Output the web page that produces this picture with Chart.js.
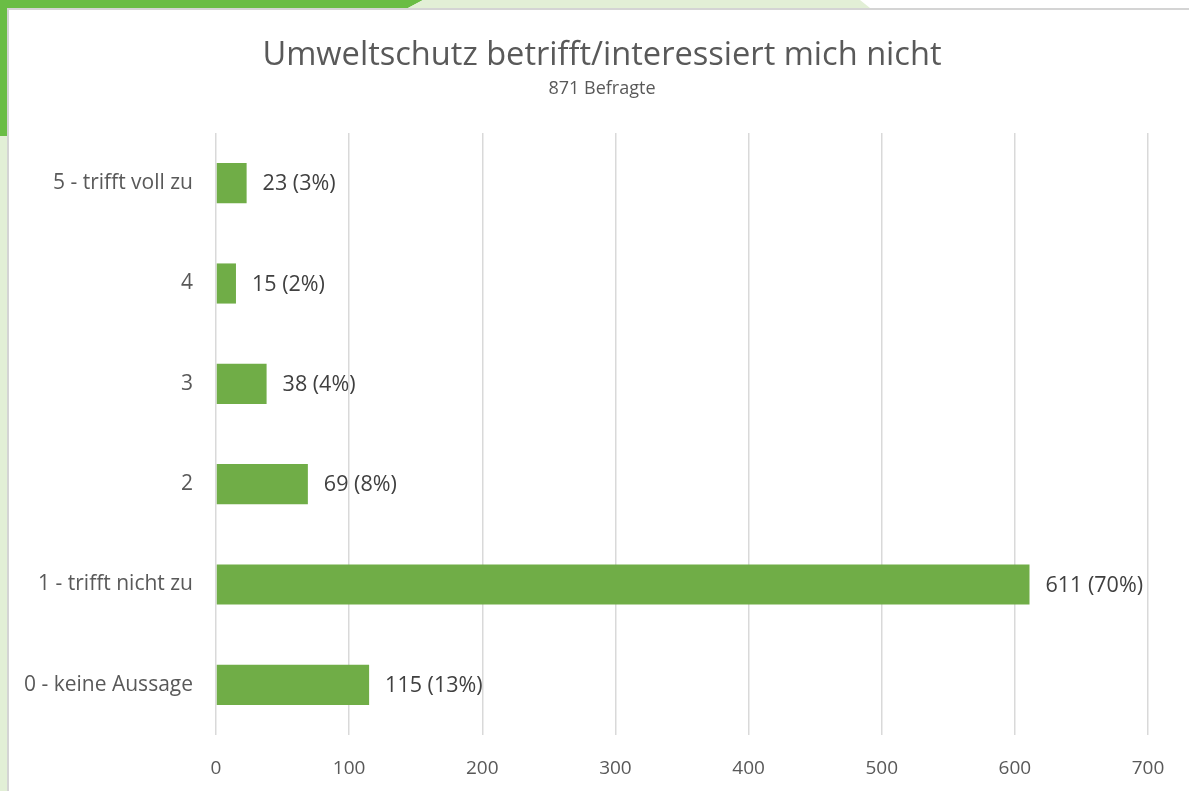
<!DOCTYPE html>
<html>
<head>
<meta charset="utf-8">
<script src="https://cdn.jsdelivr.net/npm/chart.js@4.4.1/dist/chart.umd.min.js"></script>
<style>
  html, body { margin: 0; padding: 0; background: #fff; overflow: hidden; }
  body { width: 1189px; height: 791px; position: relative; font-family: 'Open Sans', sans-serif; }
  .band-dark { position: absolute; left: 0; top: 0; width: 430px; height: 8px; background: #6abd45;
    clip-path: polygon(0 0, 423px 0, 408px 100%, 0 100%); }
  .band-light { position: absolute; left: 400px; top: 0; width: 480px; height: 8px; background: #e2efd6;
    clip-path: polygon(23px 0, 460px 0, 470px 100%, 8px 100%); }
  .side-dark { position: absolute; left: 0; top: 0; width: 7px; height: 136px; background: #6abd45; }
  .side-light { position: absolute; left: 0; top: 136px; width: 7px; height: 655px; background: #e2efd6; }
  .card { position: absolute; left: 7px; top: 8px; width: 1180px; height: 781px;
    border-top: 2px solid #d4d4d4; border-left: 2px solid #d4d4d4; background: #fff; }
  canvas { display: block; }
</style>
</head>
<body>
<div class="band-dark"></div>
<div class="band-light"></div>
<div class="side-dark"></div>
<div class="side-light"></div>
<div class="card"><canvas id="chart" width="1180" height="781"></canvas></div>
<script>
// Umweltschutz betrifft/interessiert mich nicht - 871 Befragte
const titleText = 'Umweltschutz betrifft/interessiert mich nicht';
const subtitleText = '871 Befragte';
const categories = ['5 - trifft voll zu', '4', '3', '2', '1 - trifft nicht zu', '0 - keine Aussage'];
const counts = [23, 15, 38, 69, 611, 115];
const percents = [3, 2, 4, 8, 70, 13];
const xTicks = [0, 100, 200, 300, 400, 500, 600, 700];

const FONT = "'Open Sans', sans-serif";
const TEXT = '#595959';

// title + subtitle drawn by hand so they stay centred on the whole card
const headings = {
  id: 'headings',
  afterDraw(chart) {
    const ctx = chart.ctx;
    ctx.save();
    ctx.fillStyle = TEXT;
    ctx.textAlign = 'center';
    ctx.textBaseline = 'middle';
    ctx.font = '32.6px ' + FONT;
    ctx.fillText(titleText, 593, 46);
    ctx.font = '18px ' + FONT;
    ctx.fillText(subtitleText, 593, 79);
    ctx.restore();
  }
};

// draws "23 (3%)" right of each bar
const barLabels = {
  id: 'barLabels',
  afterDatasetsDraw(chart) {
    const ctx = chart.ctx;
    const meta = chart.getDatasetMeta(0);
    ctx.save();
    ctx.font = '21.5px ' + FONT;
    ctx.fillStyle = '#404040';
    ctx.textAlign = 'left';
    ctx.textBaseline = 'middle';
    meta.data.forEach((bar, i) => {
      ctx.fillText(counts[i] + ' (' + percents[i] + '%)', bar.x + 16, bar.y + 1);
    });
    ctx.restore();
  }
};

new Chart(document.getElementById('chart'), {
  type: 'bar',
  data: {
    labels: categories,
    datasets: [{
      data: counts,
      backgroundColor: '#70ad47',
      borderWidth: 0,
      barPercentage: 0.8,
      categoryPercentage: 0.5
    }]
  },
  options: {
    indexAxis: 'y',
    responsive: false,
    animation: false,
    layout: { padding: { left: 0, right: 41, top: 123, bottom: 0 } },
    plugins: {
      legend: { display: false },
      tooltip: { enabled: false },
      title: { display: false }
    },
    scales: {
      x: {
        min: 0,
        max: 700,
        afterBuildTicks(scale) { scale.ticks = xTicks.map(v => ({ value: v })); },
        afterFit(scale) { scale.height = 56; },
        grid: { color: '#d9d9d9', lineWidth: 1.5, drawTicks: false },
        border: { display: false },
        ticks: { color: TEXT, font: { family: FONT, size: 19 }, padding: 22 }
      },
      y: {
        afterFit(scale) { scale.width = 207; },
        grid: { display: false, drawTicks: false },
        border: { display: false },
        ticks: { color: TEXT, font: { family: FONT, size: 21 }, padding: 23 }
      }
    }
  },
  plugins: [barLabels, headings]
});
</script>
</body>
</html>
